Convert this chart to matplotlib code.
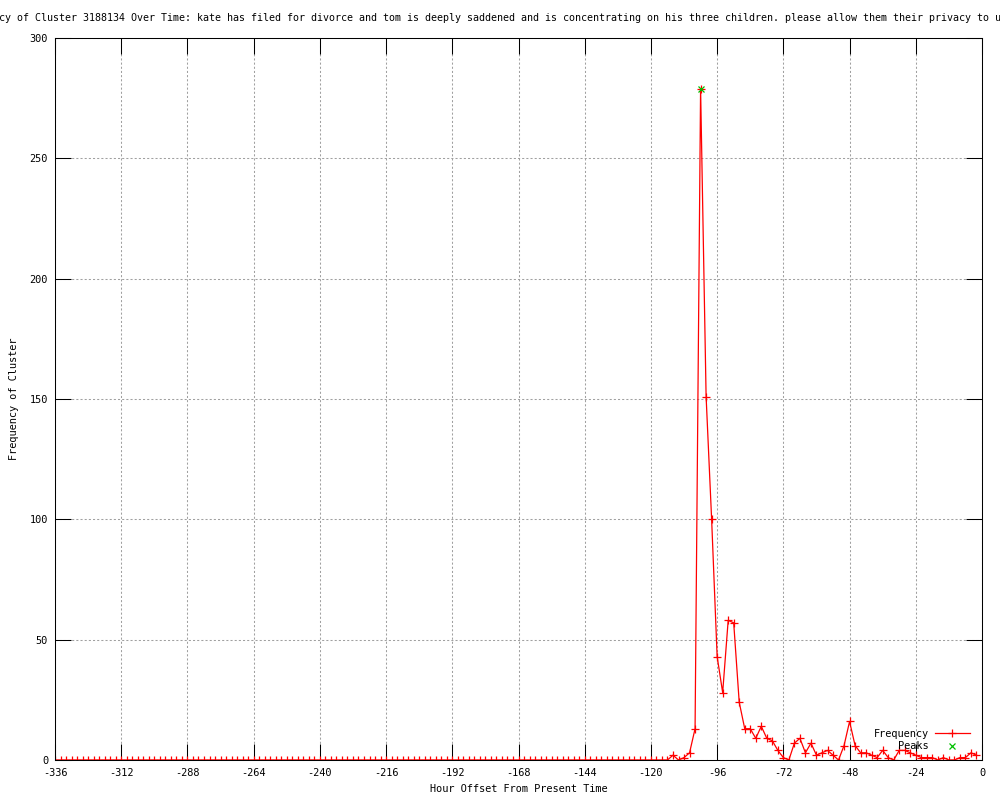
import numpy as np
import matplotlib
matplotlib.use('Agg')
import matplotlib.pyplot as plt

#######################################################
# Data
#######################################################

# hour offsets, one point every 2 hours from -336 to -2
hours = list(range(-336, 0, 2))

# -336 .. -124 : flat zero
quiet_counts = [
    0, 0, 0, 0, 0, 0, 0, 0, 0, 0, 0, 0, 0, 0, 0, 0, 0, 0, 0, 0,
    0, 0, 0, 0, 0, 0, 0, 0, 0, 0, 0, 0, 0, 0, 0, 0, 0, 0, 0, 0,
    0, 0, 0, 0, 0, 0, 0, 0, 0, 0, 0, 0, 0, 0, 0, 0, 0, 0, 0, 0,
    0, 0, 0, 0, 0, 0, 0, 0, 0, 0, 0, 0, 0, 0, 0, 0, 0, 0, 0, 0,
    0, 0, 0, 0, 0, 0, 0, 0, 0, 0, 0, 0, 0, 0, 0, 0, 0, 0, 0, 0,
    0, 0, 0, 0, 0, 0, 0,
]

# -122 .. -2
active_counts = [
    0, 0, 0, 0, 0, 2, 0, 1, 3, 13,
    279, 151, 100, 43, 28, 58, 57, 24, 13, 13,
    9, 14, 9, 8, 4, 1, 0, 7, 9, 3,
    7, 2, 3, 4, 2, 0, 6, 16, 6, 3,
    3, 2, 1, 4, 1, 0, 4, 4, 3, 2,
    1, 1, 1, 0, 1, 0, 0, 1, 1, 3,
    2,
]

frequency = quiet_counts + active_counts

peak_hours = [-102]
peak_values = [279]

title_text = ("Frequency of Cluster 3188134 Over Time: kate has filed for divorce and tom "
              "is deeply saddened and is concentrating on his three children. please allow "
              "them their privacy to u")

#######################################################
# Figure
#######################################################

plt.rcParams['font.family'] = ['DejaVu Sans Mono']
plt.rcParams['font.size'] = 7.4
plt.rcParams['axes.unicode_minus'] = False

fig = plt.figure(figsize=(10, 8), dpi=100)
ax = fig.add_axes([0.055, 0.05, 0.927, 0.9025])

ax.plot(hours, frequency, color='red', linewidth=0.9, marker='+',
        markersize=6, markeredgewidth=0.9, label='Frequency')
ax.plot(peak_hours, peak_values, linestyle='none', color='#00c000', marker='x',
        markersize=5, markeredgewidth=0.9, label='Peaks')

ax.set_xlim(-336, 0)
ax.set_ylim(0, 300)
ax.set_xticks(range(-336, 1, 24))
ax.set_yticks(range(0, 301, 50))

ax.tick_params(direction='in', length=11.5, width=0.75, top=True, right=True,
               color='black', labelsize=7.4)
ax.tick_params(axis='x', pad=6)
ax.tick_params(axis='y', pad=5)

ax.grid(True, color='#a0a0a0', linestyle=(0, (2, 2)), linewidth=0.75)
for sp in ax.spines.values():
    sp.set_linewidth(0.75)

ax.set_xlabel('Hour Offset From Present Time', labelpad=4)
ax.set_ylabel('Frequency of Cluster', labelpad=8)

ax.legend(loc='lower right', bbox_to_anchor=(0.987, 0.012), frameon=False,
          markerfirst=False, borderaxespad=0, handlelength=3.4,
          handletextpad=0.6, labelspacing=0.25, borderpad=0)

# the long title overflows the figure on both sides, as in the reference
fig.text(-0.043, 0.9775, title_text, ha='left', va='center', fontsize=7.2)

fig.savefig('out.png', dpi=100)
